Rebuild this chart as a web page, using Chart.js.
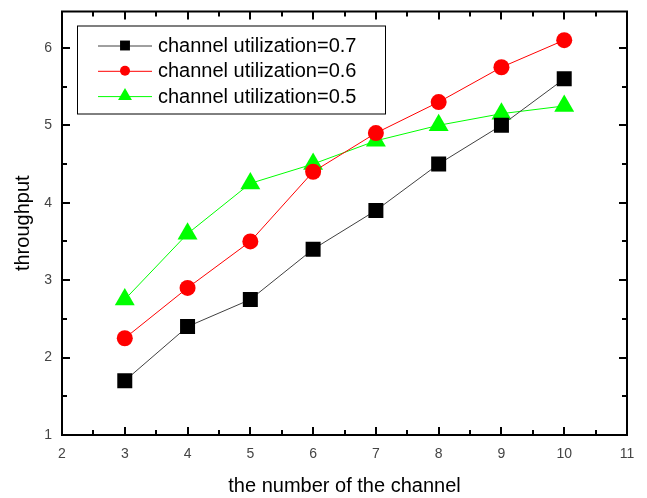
<!DOCTYPE html>
<html>
<head>
<meta charset="utf-8">
<script src="https://cdn.jsdelivr.net/npm/chart.js@4.4.0/dist/chart.umd.min.js"></script>
<style>
  html, body { margin: 0; padding: 0; background: #fff; }
  #wrap { width: 647px; height: 498px; }
</style>
</head>
<body>
<div id="wrap"><canvas id="c" width="647" height="498"></canvas></div>
<script>
// data
const channels = [3, 4, 5, 6, 7, 8, 9, 10];
const util07 = [1.7, 2.4, 2.75, 3.4, 3.9, 4.5, 5.0, 5.6];
const util06 = [2.25, 2.9, 3.5, 4.4, 4.9, 5.3, 5.75, 6.1];
const util05 = [2.75, 3.6, 4.25, 4.5, 4.8, 5.0, 5.15, 5.25];
const seriesLabels = ['channel utilization=0.7', 'channel utilization=0.6', 'channel utilization=0.5'];
const xTicks = [2, 3, 4, 5, 6, 7, 8, 9, 10, 11];
const yTicks = [1, 2, 3, 4, 5, 6];

const FONT = 'Arial, "Liberation Sans", sans-serif';

const toPoints = vals => channels.map((c, i) => ({ x: c, y: vals[i] }));

// frame + inward ticks on all four sides (major and half-step minor)
const framePlugin = {
  id: 'frame',
  afterDatasetsDraw(chart) {
    const { ctx, chartArea: a, scales: { x, y } } = chart;
    ctx.save();
    ctx.strokeStyle = '#000';
    ctx.lineWidth = 2;
    ctx.strokeRect(a.left, a.top, a.right - a.left, a.bottom - a.top);
    ctx.beginPath();
    for (let v = x.min; v <= x.max + 1e-9; v += 0.5) {
      const px = Math.round(x.getPixelForValue(v));
      const len = Number.isInteger(v) ? 8 : 5;
      ctx.moveTo(px, a.bottom); ctx.lineTo(px, a.bottom - len);
      ctx.moveTo(px, a.top); ctx.lineTo(px, a.top + len);
    }
    for (let v = y.min; v <= y.max + 1e-9; v += 0.5) {
      const py = Math.round(y.getPixelForValue(v));
      const len = Number.isInteger(v) ? 8 : 5;
      ctx.moveTo(a.left, py); ctx.lineTo(a.left + len, py);
      ctx.moveTo(a.right, py); ctx.lineTo(a.right - len, py);
    }
    ctx.stroke();
    ctx.restore();
  }
};

// boxed legend with line + marker, like the original
const legendPlugin = {
  id: 'boxLegend',
  afterDraw(chart) {
    const { ctx, chartArea: a } = chart;
    const bx = a.left + 15, by = a.top + 14, bw = 308, bh = 88;
    ctx.save();
    ctx.fillStyle = '#fff';
    ctx.fillRect(bx, by, bw, bh);
    ctx.strokeStyle = '#000';
    ctx.lineWidth = 1;
    ctx.strokeRect(bx + 0.5, by + 0.5, bw, bh);
    chart.data.datasets.forEach((ds, i) => {
      const cy = by + 20 + i * 25.3;
      ctx.strokeStyle = ds.borderColor;
      ctx.lineWidth = 1;
      ctx.beginPath();
      ctx.moveTo(bx + 21, cy + 0.5);
      ctx.lineTo(bx + 75, cy + 0.5);
      ctx.stroke();
      ctx.fillStyle = ds.pointBackgroundColor;
      Chart.helpers.drawPoint(ctx, {
        pointStyle: ds.pointStyle, radius: ds.legendRadius, rotation: 0, borderWidth: 0
      }, bx + 48, cy);
      ctx.fillStyle = '#000';
      ctx.font = '20px ' + FONT;
      ctx.textBaseline = 'middle';
      ctx.fillText(ds.label, bx + 81, cy + 1);
    });
    ctx.restore();
  }
};

new Chart(document.getElementById('c'), {
  type: 'line',
  data: {
    datasets: [
      {
        label: seriesLabels[0],
        data: toPoints(util07),
        borderColor: '#404040',
        borderWidth: 1,
        pointStyle: 'rect',
        pointRadius: 10.6,
        legendRadius: 7,
        pointBackgroundColor: '#000',
        pointBorderWidth: 0
      },
      {
        label: seriesLabels[1],
        data: toPoints(util06),
        borderColor: '#ff0000',
        borderWidth: 1,
        pointStyle: 'circle',
        pointRadius: 8,
        legendRadius: 5,
        pointBackgroundColor: '#ff0000',
        pointBorderWidth: 0
      },
      {
        label: seriesLabels[2],
        data: toPoints(util05),
        borderColor: '#00ff00',
        borderWidth: 1,
        pointStyle: 'triangle',
        pointRadius: 11.5,
        legendRadius: 8,
        pointBackgroundColor: '#00ff00',
        pointBorderWidth: 0
      }
    ]
  },
  options: {
    responsive: false,
    animation: false,
    events: [],
    layout: { padding: { top: 9, right: 20, left: 0, bottom: 0 } },
    plugins: { legend: { display: false }, tooltip: { enabled: false } },
    scales: {
      x: {
        type: 'linear',
        min: 2,
        max: 11,
        afterBuildTicks: s => { s.ticks = xTicks.map(v => ({ value: v })); },
        afterFit: s => { s.height = 63; s.paddingLeft = 0; s.paddingRight = 0; },
        grid: { display: false, drawTicks: false },
        border: { display: false },
        ticks: { padding: 11, color: '#444', font: { family: FONT, size: 14 } },
        title: {
          display: true,
          text: 'the number of the channel',
          color: '#000',
          font: { family: FONT, size: 20 },
          padding: { top: 0, bottom: 0 }
        }
      },
      y: {
        type: 'linear',
        min: 1,
        max: 6.47,
        afterBuildTicks: s => { s.ticks = yTicks.map(v => ({ value: v })); },
        afterFit: s => { s.width = 62; s.paddingTop = 0; s.paddingBottom = 0; },
        grid: { display: false, drawTicks: false },
        border: { display: false },
        ticks: { padding: 10, color: '#444', font: { family: FONT, size: 14 } },
        title: {
          display: true,
          text: 'throughput',
          color: '#000',
          font: { family: FONT, size: 20 },
          padding: { top: 11, bottom: 0 }
        }
      }
    }
  },
  plugins: [framePlugin, legendPlugin]
});
</script>
</body>
</html>
